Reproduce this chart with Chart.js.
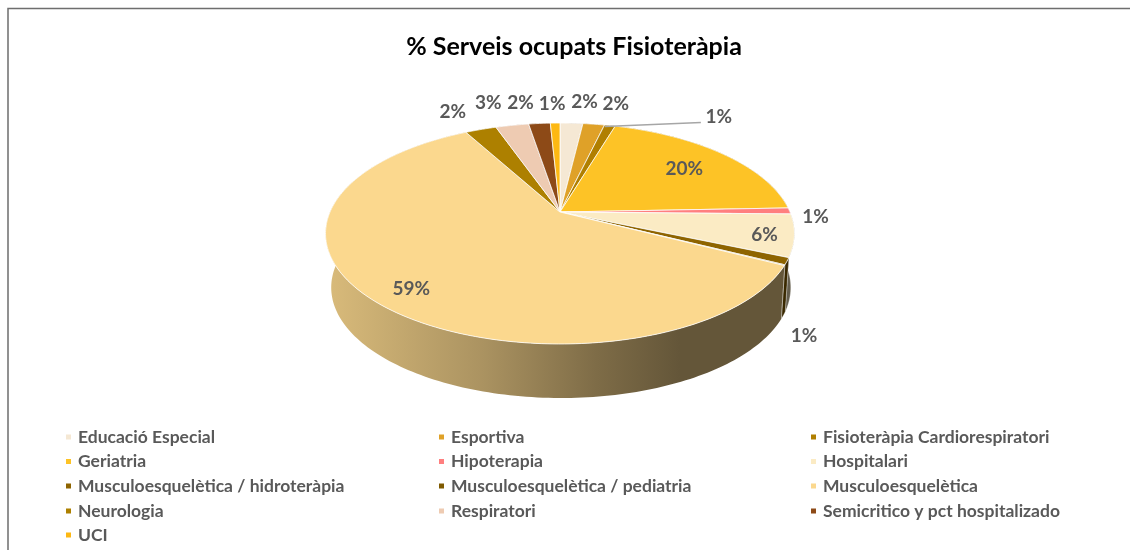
<!DOCTYPE html>
<html>
<head>
<meta charset="utf-8">
<style>
  html, body { margin: 0; padding: 0; background: #fff; overflow: hidden; }
  #wrap { position: relative; width: 1130px; height: 550px; }
  /* the original is a slightly soft screenshot */
  #myChart { filter: blur(0.35px); }
</style>
<script src="https://cdn.jsdelivr.net/npm/chart.js@4"></script>
</head>
<body>
<div id="wrap"><canvas id="myChart" width="1130" height="550"></canvas></div>
<script>
const categories = [
  "Educació Especial", "Esportiva", "Fisioteràpia Cardiorespiratori",
  "Geriatria", "Hipoterapia", "Hospitalari",
  "Musculoesquelètica / hidroteràpia", "Musculoesquelètica / pediatria", "Musculoesquelètica",
  "Neurologia", "Respiratori", "Semicritico y pct hospitalizado",
  "UCI",
];
const values = [1.9, 1.8, 0.9, 19.8, 0.9, 6.2, 1.0, 0.1, 59.5, 2.6, 2.75, 1.8, 0.8];
const percentLabels = ["2%", "2%", "1%", "20%", "1%", "6%", "1%", "", "59%", "2%", "3%", "2%", "1%"];
const colors = [
  "#f5e8d4", "#dfa128", "#b07f00",
  "#fdc326", "#ff7f7f", "#fbebc4",
  "#8e6400", "#7f5a00", "#fbd88e",
  "#ad8000", "#eecbb2", "#8d4a17",
  "#fdb813",
];

// label position relative to the middle of the slice's rim, in px
const labelOffsets = [
  [13, -21], [22, -20], [109, -9], [-38, 15], [26, 6], [-30, -1],
  [17, 75], [0, 0], [38, -11], [-28, -18], [-24, -22], [-19, -21], [-3, -19],
];

const fontFamily = "Lato, Carlito, 'Open Sans', sans-serif";
const textColor = "#595959";

// look of the tilted disc
const shiftX = -14;
const radiusX = 230;
const radiusY = 106.3;
const tilt = 0.1946;
const depth = 54;
const bottomScale = 0.98;
const bottomShiftX = 1;

function project(arc, angle, r, onBottom) {
  const u = r * Math.cos(angle);
  const v = r * Math.sin(angle);
  const w = 1 - tilt * v;
  let dx = (radiusX * u) / w;
  let y = arc.y + (radiusY * v) / w;
  if (onBottom) {
    dx = dx * bottomScale + bottomShiftX;
    y += depth;
  }
  return { x: arc.x + shiftX + dx, y: y };
}

function shade(hex, f) {
  const n = parseInt(hex.slice(1), 16);
  const r = Math.round(((n >> 16) & 255) * f);
  const g = Math.round(((n >> 8) & 255) * f);
  const b = Math.round((n & 255) * f);
  return "rgb(" + r + "," + g + "," + b + ")";
}

function rimPath(ctx, arc, from, to, onBottom, moveFirst) {
  const steps = Math.max(2, Math.ceil(Math.abs(to - from) / 0.02));
  for (let i = 0; i <= steps; i++) {
    const p = project(arc, from + ((to - from) * i) / steps, 1, onBottom);
    if (i === 0 && moveFirst) ctx.moveTo(p.x, p.y);
    else ctx.lineTo(p.x, p.y);
  }
}

const tiltedPie = {
  id: "tiltedPie",
  beforeDatasetDraw(chart, args) {
    const ctx = chart.ctx;
    const arcs = args.meta.data;
    const base = arcs[0];
    const cx = base.x + shiftX;

    ctx.save();
    // side wall first, the top covers whatever sits behind it
    arcs.forEach((arc, i) => {
      const g = ctx.createLinearGradient(cx - radiusX, 0, cx + radiusX, 0);
      g.addColorStop(0, shade(colors[i], 0.86));
      g.addColorStop(0.33, shade(colors[i], 0.68));
      g.addColorStop(0.58, shade(colors[i], 0.5));
      g.addColorStop(0.76, shade(colors[i], 0.4));
      g.addColorStop(1, shade(colors[i], 0.4));
      ctx.beginPath();
      rimPath(ctx, arc, arc.startAngle, arc.endAngle, false, true);
      rimPath(ctx, arc, arc.endAngle, arc.startAngle, true, false);
      ctx.closePath();
      ctx.fillStyle = g;
      ctx.fill();
      if (values[i] < 10) {
        ctx.strokeStyle = "rgba(255,255,255,0.5)";
        ctx.lineWidth = 0.6;
        ctx.stroke();
      }
    });

    // top of the disc
    arcs.forEach((arc, i) => {
      const c = project(arc, 0, 0, false);
      ctx.beginPath();
      ctx.moveTo(c.x, c.y);
      rimPath(ctx, arc, arc.startAngle, arc.endAngle, false, false);
      ctx.closePath();
      ctx.fillStyle = colors[i];
      ctx.fill();
      ctx.strokeStyle = "rgba(255,255,255,0.85)";
      ctx.lineWidth = 0.9;
      ctx.stroke();
    });
    ctx.restore();
    return false;
  },
  afterDatasetsDraw(chart) {
    const ctx = chart.ctx;
    const arcs = chart.getDatasetMeta(0).data;
    ctx.save();
    ctx.font = "bold 19px " + fontFamily;
    ctx.fillStyle = textColor;
    ctx.textAlign = "center";
    ctx.textBaseline = "middle";
    arcs.forEach((arc, i) => {
      if (!percentLabels[i]) return;
      const mid = (arc.startAngle + arc.endAngle) / 2;
      const p = project(arc, mid, 1, false);
      const x = p.x + labelOffsets[i][0];
      const y = p.y + labelOffsets[i][1];
      if (labelOffsets[i][0] > 60) {
        // leader line for the label pulled away from its slice
        ctx.beginPath();
        ctx.moveTo(p.x - 5, p.y + 1);
        ctx.lineTo(x - 18, y + 6);
        ctx.strokeStyle = "#a6a6a6";
        ctx.lineWidth = 1.5;
        ctx.stroke();
      }
      ctx.fillText(percentLabels[i], x, y);
    });
    ctx.restore();
  },
};

// frame of the chart, open on the right and at the bottom
const frame = {
  id: "frame",
  beforeDraw(chart) {
    const ctx = chart.ctx;
    ctx.save();
    ctx.strokeStyle = "#6e6e6e";
    ctx.lineWidth = 1.5;
    ctx.beginPath();
    ctx.moveTo(8, 550);
    ctx.lineTo(8, 8.5);
    ctx.lineTo(1130, 8.5);
    ctx.stroke();
    ctx.restore();
  },
};

// legend in three fixed columns, filled row by row
const legendColumns = [66, 439, 811];
const legendRows = [437, 461.5, 486, 511, 535];
const legendGrid = {
  id: "legendGrid",
  afterDraw(chart) {
    const ctx = chart.ctx;
    ctx.save();
    ctx.font = "bold 17.5px " + fontFamily;
    ctx.textBaseline = "middle";
    ctx.textAlign = "left";
    categories.forEach((name, i) => {
      const x = legendColumns[i % 3];
      const y = legendRows[Math.floor(i / 3)];
      ctx.fillStyle = colors[i];
      ctx.fillRect(x, y - 2.5, 5, 5);
      ctx.fillStyle = textColor;
      ctx.fillText(name, x + 12, y);
    });
    ctx.restore();
  },
};

const ctx = document.getElementById("myChart");

new Chart(ctx, {
  type: "pie",
  data: {
    labels: categories,
    datasets: [
      {
        data: values,
        backgroundColor: colors,
        borderWidth: 0,
      },
    ],
  },
  options: {
    responsive: false,
    animation: false,
    layout: {
      padding: { left: 18, right: 0, top: 0, bottom: 191 },
    },
    plugins: {
      legend: { display: false },
      tooltip: { enabled: false },
      title: {
        display: true,
        text: "% Serveis ocupats Fisioteràpia",
        color: "#000",
        font: { family: fontFamily, size: 25, weight: "bold" },
        padding: { top: 32, bottom: 3 },
      },
    },
  },
  plugins: [frame, tiltedPie, legendGrid],
});
</script>
</body>
</html>
